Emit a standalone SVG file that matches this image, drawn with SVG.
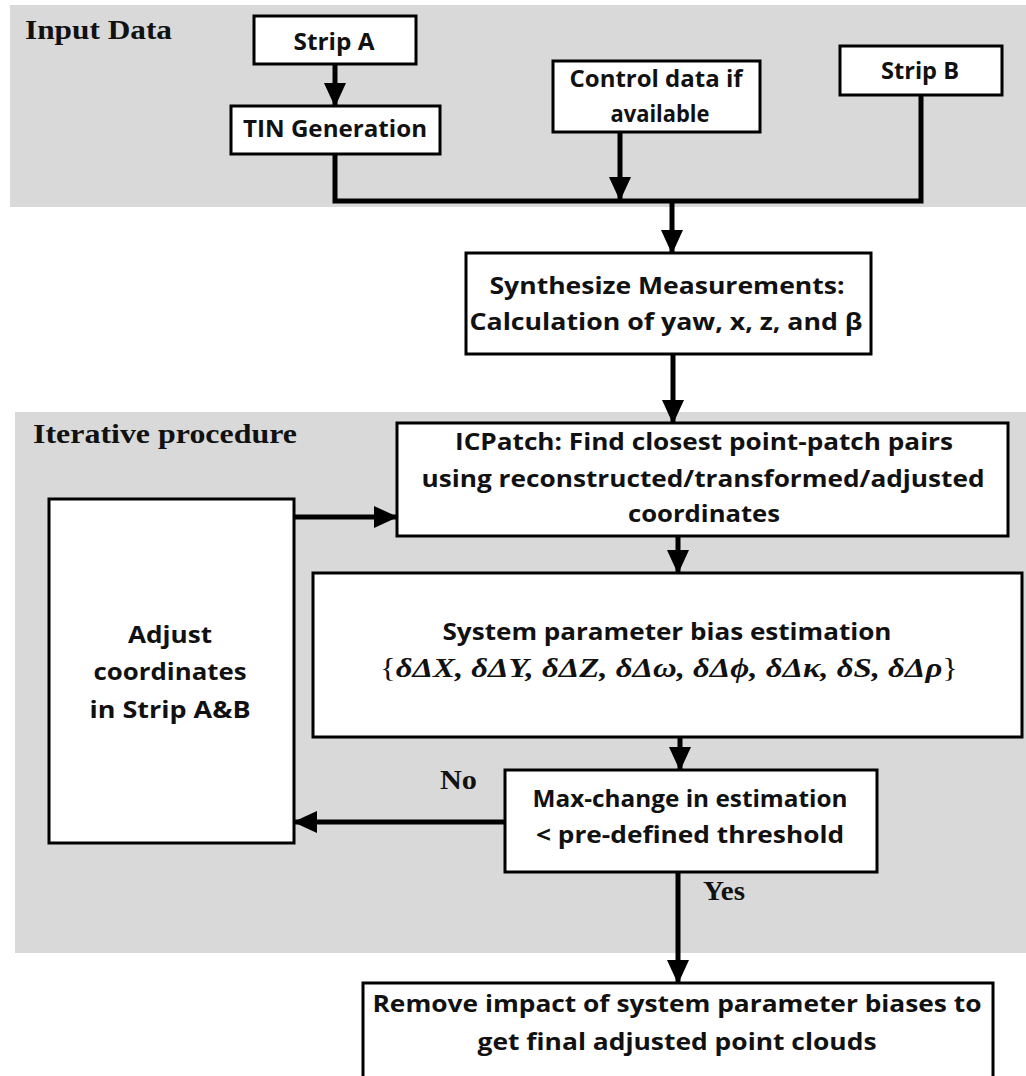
<svg xmlns="http://www.w3.org/2000/svg" width="1026" height="1076" viewBox="0 0 1026 1076">
<defs>
<style>
.panel{fill:#d9d9d9;stroke:none}
.box{fill:#fff;stroke:#000;stroke-width:3}
.t{font-family:"Open Sans","Liberation Sans",sans-serif;font-weight:bold;font-size:24px;fill:#111;text-anchor:middle}
.h{font-family:"Liberation Serif","Times New Roman",serif;font-weight:bold;font-size:27px;fill:#111}
.m{font-family:"Liberation Serif","Times New Roman",serif;font-weight:bold;font-style:italic;font-size:28px;fill:#111;text-anchor:middle}
.br{font-style:normal;font-weight:normal}
.c{fill:none;stroke:#000;stroke-width:5}
.a{fill:none;stroke:#000;stroke-width:5;marker-end:url(#ah)}
</style>
<marker id="ah" markerUnits="userSpaceOnUse" markerWidth="24" markerHeight="24" refX="23" refY="12" orient="auto" viewBox="0 0 24 24">
<path d="M0,1 L24,12 L0,23 z" fill="#000"/>
</marker>
</defs>
<rect width="1026" height="1076" fill="#fff"/>
<g id="panel-input">
<rect class="panel" x="10" y="5" width="1016" height="202"/>
<text class="h" x="25" y="39" textLength="147" lengthAdjust="spacingAndGlyphs">Input Data</text>
</g>
<g id="panel-iterative">
<rect class="panel" x="15" y="412" width="1011" height="541"/>
<text class="h" x="33" y="443" textLength="264" lengthAdjust="spacingAndGlyphs">Iterative procedure</text>
</g>
<g id="connectors">
<path class="a" d="M335,64 V106"/>
<path class="c" d="M335,154 V201 H921 V95"/>
<path class="a" d="M620,132 V200"/>
<path class="a" d="M672,201 V253"/>
<path class="a" d="M673,354 V423"/>
<path class="a" d="M294,517 H397"/>
<path class="a" d="M678,536 V573"/>
<path class="a" d="M680,737 V770"/>
<path class="a" d="M505,822 H294"/>
<path class="a" d="M678,872 V983"/>
<text class="h" x="440" y="789" textLength="37" lengthAdjust="spacingAndGlyphs">No</text>
<text class="h" x="703" y="900" textLength="42" lengthAdjust="spacingAndGlyphs">Yes</text>
</g>
<g id="strip-a">
<rect class="box" x="254" y="16" width="162" height="48"/>
<text class="t" x="334" y="50" textLength="81" lengthAdjust="spacingAndGlyphs">Strip A</text>
</g>
<g id="tin">
<rect class="box" x="231" y="106" width="209" height="48"/>
<text class="t" x="335" y="137" textLength="184" lengthAdjust="spacingAndGlyphs">TIN Generation</text>
</g>
<g id="control">
<rect class="box" x="553" y="61" width="207" height="71"/>
<text class="t" x="656" y="87" textLength="173" lengthAdjust="spacingAndGlyphs">Control data if</text>
<text class="t" x="660" y="122" textLength="99" lengthAdjust="spacingAndGlyphs">available</text>
</g>
<g id="strip-b">
<rect class="box" x="840" y="46" width="162" height="49"/>
<text class="t" x="920" y="79" textLength="78" lengthAdjust="spacingAndGlyphs">Strip B</text>
</g>
<g id="synthesize">
<rect class="box" x="466" y="253" width="405" height="101"/>
<text class="t" x="667" y="294" textLength="355" lengthAdjust="spacingAndGlyphs">Synthesize Measurements:</text>
<text class="t" x="666" y="330" textLength="393" lengthAdjust="spacingAndGlyphs">Calculation  of yaw, x, z, and β</text>
</g>
<g id="icpatch">
<rect class="box" x="397" y="423" width="611" height="113"/>
<text class="t" x="704" y="450" textLength="498" lengthAdjust="spacingAndGlyphs">ICPatch: Find closest point-patch pairs</text>
<text class="t" x="703" y="487" textLength="563" lengthAdjust="spacingAndGlyphs">using reconstructed/transformed/adjusted</text>
<text class="t" x="704" y="522" textLength="152" lengthAdjust="spacingAndGlyphs">coordinates</text>
</g>
<g id="adjust">
<rect class="box" x="49" y="499" width="245" height="344"/>
<text class="t" x="170" y="643" textLength="84" lengthAdjust="spacingAndGlyphs">Adjust</text>
<text class="t" x="170" y="680" textLength="153" lengthAdjust="spacingAndGlyphs">coordinates</text>
<text class="t" x="170" y="718" textLength="161" lengthAdjust="spacingAndGlyphs">in Strip A&amp;B</text>
</g>
<g id="estimation">
<rect class="box" x="313" y="573" width="709" height="164"/>
<text class="t" x="667" y="640" textLength="449" lengthAdjust="spacingAndGlyphs">System parameter bias estimation</text>
<text class="m" x="669" y="677" textLength="578" lengthAdjust="spacingAndGlyphs"><tspan class="br">{</tspan>δΔX, δΔY, δΔZ, δΔω, δΔϕ, δΔκ, δS, δΔρ<tspan class="br">}</tspan></text>
</g>
<g id="maxchange">
<rect class="box" x="505" y="770" width="372" height="102"/>
<text class="t" x="690" y="807" textLength="315" lengthAdjust="spacingAndGlyphs">Max-change in estimation</text>
<text class="t" x="690" y="843" textLength="308" lengthAdjust="spacingAndGlyphs">&lt; pre-defined threshold</text>
</g>
<g id="remove">
<rect class="box" x="363" y="983" width="630" height="100"/>
<text class="t" x="677" y="1012" textLength="609" lengthAdjust="spacingAndGlyphs">Remove impact of system parameter biases to</text>
<text class="t" x="677" y="1050" textLength="399" lengthAdjust="spacingAndGlyphs">get final adjusted point clouds</text>
</g>
</svg>
